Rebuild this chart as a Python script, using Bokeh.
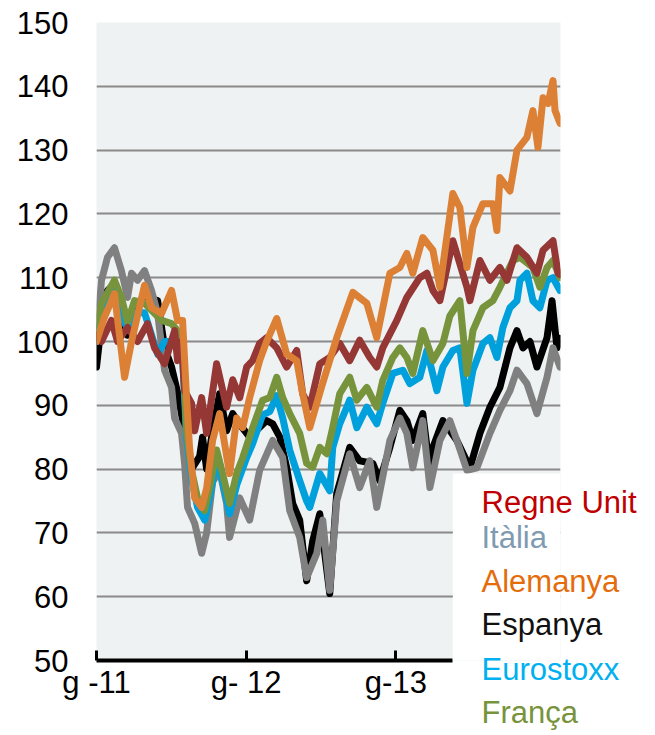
from bokeh.plotting import figure
from bokeh.models import ColumnDataSource, FixedTicker, Range1d, BoxAnnotation, GridBox
from bokeh.core.properties import value
from bokeh.embed import file_html
from bokeh.resources import INLINE

# x values: months since January 2011 (g-11); y values: index (Jan 2011 = 100)
uk_m = [0, 0.4, 1.2, 1.69, 2.49, 3.29, 4.09, 4.65, 5.46, 6.26, 6.5, 6.82, 7.06, 7.62, 7.87, 8.43, 8.83, 9.63, 10.43, 10.92,
        11.48, 12.04, 12.52, 13.08, 13.64, 14.45, 15.25, 16.05, 16.53, 17.1, 17.9, 18.7, 19.5, 20.3, 21.1, 21.91, 22.47, 22.95,
        24.08, 24.88, 25.92, 26.49, 26.97, 27.53, 28.57, 29.7, 29.94, 30.74, 31.54, 32.34, 32.91, 33.71, 34.51, 35.31, 35.8,
        36.6, 37.0, 37.16]
uk_v = [101, 100, 103.3, 100, 102.2, 100, 102.8, 99, 96.5, 101.7, 97, 100, 92.3, 90.3, 86, 91.2, 85.6, 96.5, 89.7, 94,
        91.2, 96, 97, 99.7, 100.6, 99, 96, 98.6, 91.8, 89.7, 96.5, 97.5, 99.7, 97, 100.2, 97.5, 96, 99,
        103.3, 106.9, 110, 110.7, 108, 106.4, 115.8, 108.5, 106.4, 112.7, 109.6, 111.6, 109.6, 114.7, 113.2, 110.7, 114.3,
        115.8, 110.7, 110.5]

de_m = [0, 0.64, 1.44, 2.25, 2.81, 3.85, 4.41, 5.22, 6.02, 6.5, 6.9, 7.22, 7.46, 7.87, 8.43, 8.83, 9.31, 9.87, 10.67, 11.24,
        11.72, 12.28, 13.08, 13.64, 14.45, 15.25, 16.05, 16.53, 17.1, 18.06, 19.26, 20.55, 21.67, 22.47, 23.52, 24.32, 24.88,
        25.36, 26.16, 26.97, 27.53, 28.57, 29.13, 29.7, 30.18, 30.98, 31.78, 32.1, 32.34, 33.15, 33.71, 34.51, 34.99, 35.39,
        35.8, 36.2, 36.6, 36.76, 37.16]
de_v = [100, 103.8, 107.5, 94.4, 100, 108.8, 105.3, 104.4, 108, 103.3, 103.3, 91.2, 83.4, 75.5, 74, 77, 84.5, 88.7, 79.3, 88,
        86.5, 91.2, 97, 100, 103.6, 98, 97, 91.8, 86.5, 93, 100.6, 107.7, 106, 100.6, 110.7, 111.6, 113.8,
        110.7, 116.3, 114.3, 108.5, 123.2, 121, 111.6, 117.9, 121.6, 121.6, 117.4, 125.7, 123.6, 130, 132, 136.2, 130.4,
        138.2, 137.3, 140.9, 136.2, 134.2]

fr_m = [0, 0.4, 1.44, 2.0, 2.49, 3.05, 3.85, 4.41, 5.22, 6.02, 6.5, 6.9, 7.22, 7.62, 8.1, 8.67, 9.07, 9.63, 10.11, 10.67,
        11.24, 11.72, 12.52, 13.32, 13.89, 14.45, 14.93, 15.49, 16.29, 16.85, 17.34, 17.9, 18.46, 18.94, 19.5, 20.3, 20.87,
        21.67, 22.47, 22.95, 23.76, 24.32, 24.88, 25.36, 26.16, 26.97, 27.77, 28.33, 29.13, 29.7, 30.18, 30.98, 31.78, 32.34,
        33.39, 33.95, 34.99, 35.55, 36.12, 36.6, 37.16]
fr_v = [101, 106, 109.6, 106.9, 103, 106.4, 106, 104.9, 103.3, 102.8, 101.7, 100, 86, 79.8, 75.5, 73.5, 77.1, 83, 79.3, 74.6,
        79.3, 81.8, 86.5, 90.8, 91.2, 94.4, 91.2, 88.7, 85.6, 80.9, 80.3, 83.4, 82.4, 86.5, 91.8, 94.4, 90.8,
        92.8, 89.7, 93.9, 97.5, 99, 97.5, 95, 101.7, 97, 99.7, 104, 106.4, 95, 101.7, 105.3, 106.4, 108.5,
        112.7, 113.2, 111.6, 108.5, 111.6, 112.7, 110]

eu_m = [0, 0.4, 1.44, 2.0, 2.49, 3.05, 3.85, 4.9, 5.46, 6.02, 6.5, 6.9, 7.22, 7.62, 8.1, 8.67, 9.07, 9.63, 10.11, 10.67,
        11.24, 12.04, 12.52, 13.32, 13.89, 14.45, 14.93, 15.49, 16.29, 16.85, 17.1, 17.9, 18.7, 18.94, 19.5, 20.07, 20.3,
        20.87, 21.67, 22.47, 22.95, 23.76, 24.56, 25.12, 25.92, 26.49, 27.29, 27.77, 28.57, 29.13, 29.7, 30.18, 30.98, 31.54,
        32.1, 32.58, 33.15, 33.71, 33.95, 34.51, 34.99, 35.55, 36.12, 36.6, 37.16]
eu_v = [100, 104, 108, 104, 102, 104.5, 104.5, 98, 100, 100, 99, 97.5, 85, 78.5, 74, 72, 75.5, 81.5, 78, 73,
        77.5, 81.8, 84, 88.5, 89, 91.5, 88, 83, 78.2, 75, 74, 79.3, 76.6, 83.4, 87.1, 89.7, 90.8,
        86.5, 89.7, 87.1, 90.3, 95, 95.5, 93.4, 94.4, 98.6, 92.3, 96, 98.6, 99, 90.3, 95.5, 99.7, 100.6,
        97.5, 102.2, 105.3, 106.4, 109.6, 110.7, 106.4, 105.3, 109.6, 110, 108]

it_m = [0, 0.4, 0.88, 1.44, 2.0, 2.49, 2.81, 3.29, 3.85, 4.41, 4.9, 5.46, 6.02, 6.26, 6.82, 7.06, 7.3, 7.87, 8.43, 8.83,
        9.31, 9.87, 10.43, 10.67, 11.48, 12.28, 13.08, 14.13, 14.93, 15.49, 16.29, 16.85, 17.66, 18.14, 18.7, 19.26, 20.3,
        21.1, 21.91, 22.47, 23.52, 24.32, 24.88, 25.36, 26.16, 26.73, 27.53, 28.33, 28.89, 29.7, 30.5, 31.54, 32.34, 33.15,
        33.71, 34.51, 35.31, 36.12, 36.6, 37.16]
it_v = [100, 109.6, 113.2, 114.7, 111.1, 106.9, 110.7, 109.6, 111.1, 108, 104.4, 95.5, 92.8, 88, 85.6, 80.9, 74, 71.5, 66.8, 70,
        78, 79.8, 74.6, 69.3, 75.5, 72, 79.8, 84.5, 81.8, 73.5, 69.3, 63, 66.8, 72, 61, 75, 82.4,
        77.1, 81.3, 74, 84.5, 88, 85.6, 80.2, 87.6, 77.1, 84.5, 87.6, 84.5, 79.8, 80.2, 85.6, 89.2, 92.3,
        95.5, 93.4, 88.7, 94.4, 99, 96]

es_m = [0, 0.4, 0.88, 1.44, 2.0, 2.49, 3.29, 3.85, 4.9, 5.46, 6.02, 6.5, 7.06, 7.62, 8.27, 8.5, 8.83, 9.31, 9.87, 10.43,
        10.92, 11.48, 12.28, 13.64, 14.13, 14.7, 15.25, 15.73, 16.29, 16.85, 17.34, 17.9, 18.7, 19.26, 20.3, 21.1, 22.15,
        22.71, 23.52, 24.32, 24.88, 25.36, 26.16, 26.73, 26.97, 27.77, 28.89, 29.94, 30.74, 31.54, 32.34, 33.15, 33.71,
        34.19, 34.75, 35.31, 36.12, 36.52, 36.92, 37.16]
es_v = [96, 103, 108, 109, 104, 101, 106, 107, 106.4, 99, 96, 92, 86, 80, 82, 85, 80, 86, 91.8, 86,
        88.7, 87, 85, 87.6, 87.1, 85, 80.2, 74.6, 72, 62.5, 68.8, 73, 60.5, 76.2, 83.4, 81.3, 80.9,
        78.2, 83.4, 89.2, 87.6, 84.5, 88.7, 79.8, 83.4, 87.6, 84.5, 80.2, 85.6, 89.7, 92.8, 99, 101.7,
        99, 100, 96, 100.6, 106.4, 99, 100.5]

tick_months = [0, 12, 24]
tick_labels = ["g -11", "g- 12", "g-13"]
y_ticks = [50, 60, 70, 80, 90, 100, 110, 120, 130, 140, 150]

legend_names = ["Regne Unit", "Itàlia", "Alemanya", "Espanya", "Eurostoxx", "França"]
legend_colors = ["#c00000", "#7f9bb1", "#e46c0a", "#111111", "#00b0f0", "#77933c"]

FONT = "Liberation Sans"
W, H = 650, 730

p = figure(width=W, height=H, output_backend="svg", toolbar_location=None,
           x_range=Range1d(0, 37.2), y_range=Range1d(50, 150),
           min_border_left=96, min_border_right=90, min_border_top=22, min_border_bottom=70)
p.background_fill_color = "#eef2f3"
p.border_fill_color = "white"
p.outline_line_color = None
p.frame_align = False

# series drawn back to front
series = [
    (es_m, es_v, "#000000"),
    (it_m, it_v, "#808080"),
    (eu_m, eu_v, "#00a0dc"),
    (fr_m, fr_v, "#77933c"),
    (uk_m, uk_v, "#953735"),
    (de_m, de_v, "#dc8036"),
]
for xs, ys, col in series:
    assert len(xs) == len(ys)
    src = ColumnDataSource(dict(x=xs, y=ys))
    p.line("x", "y", source=src, line_color=col, line_width=7, line_join="round", line_cap="round")

# grid
p.xgrid.grid_line_color = None
p.ygrid.ticker = FixedTicker(ticks=y_ticks)
p.ygrid.grid_line_color = "#8a8a8a"
p.ygrid.grid_line_width = 2

# y axis
p.yaxis.ticker = FixedTicker(ticks=y_ticks)
p.yaxis.axis_line_color = None
p.yaxis.major_tick_line_color = None
p.yaxis.minor_tick_line_color = None
p.yaxis.major_tick_in = 0
p.yaxis.major_tick_out = 0
p.yaxis.major_label_standoff = 28
p.yaxis.major_label_text_font = FONT
p.yaxis.major_label_text_font_size = "31px"
p.yaxis.major_label_text_color = "black"

# x axis
p.xaxis.ticker = FixedTicker(ticks=tick_months)
p.xaxis.major_label_overrides = {m: lab for m, lab in zip(tick_months, tick_labels)}
p.xaxis.bounds = (0, 28.57)
p.xaxis.axis_line_color = "black"
p.xaxis.axis_line_width = 4
p.xaxis.major_tick_line_color = "black"
p.xaxis.major_tick_line_width = 3
p.xaxis.major_tick_in = 10
p.xaxis.major_tick_out = 0
p.xaxis.minor_tick_line_color = None
p.xaxis.major_label_standoff = 4
p.xaxis.major_label_text_font = FONT
p.xaxis.major_label_text_font_size = "31px"
p.xaxis.major_label_text_color = "black"

# white legend panel covering the lower right corner of the plot
p.add_layout(BoxAnnotation(left=28.57, top=79.3, fill_color="white", fill_alpha=1.0,
                           line_color=None))

# transparent overlay figure (same size, pixel coordinates, y downward) carrying the legend texts,
# so that they are not clipped by the plot frame
ov = figure(width=W, height=H, output_backend="svg", toolbar_location=None,
            x_range=Range1d(0, W), y_range=Range1d(H, 0),
            x_axis_location=None, y_axis_location=None,
            min_border_left=0, min_border_right=0, min_border_top=0, min_border_bottom=0)
ov.grid.visible = False
ov.background_fill_alpha = 0
ov.border_fill_alpha = 0
ov.outline_line_color = None
ov.frame_align = False

legend_px_x = [481] * 6
legend_px_y = [502, 537, 581, 624, 669, 712]
lsrc = ColumnDataSource(dict(x=legend_px_x, y=legend_px_y, text=legend_names, color=legend_colors))
ov.text("x", "y", text="text", source=lsrc, text_color="color", text_font=value(FONT),
        text_font_size="31px", text_baseline="alphabetic", text_align="left")

layout = GridBox(children=[(p, 0, 0), (ov, 0, 0)])

open("out.html", "w").write(file_html(layout, INLINE))
